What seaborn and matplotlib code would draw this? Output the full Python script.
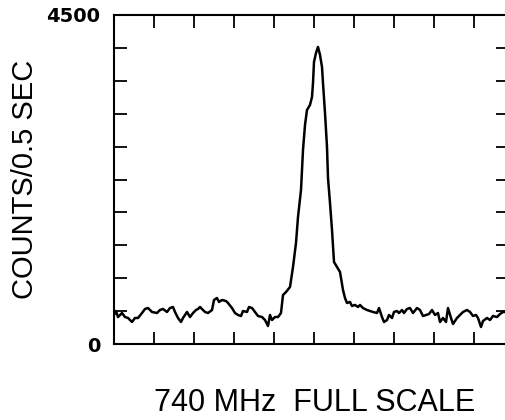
import matplotlib
matplotlib.use("Agg")
import matplotlib.pyplot as plt
import numpy as np
import pandas as pd
import seaborn as sns

# spectrum: x in scale divisions (740 MHz full scale = 10 div)
channel = [
    0.00, 0.05, 0.10, 0.20, 0.275, 0.35, 0.45, 0.525, 0.60, 0.70, 0.775, 0.85, 0.95,
    1.075, 1.15, 1.225, 1.325, 1.40, 1.475, 1.525, 1.60, 1.675, 1.725, 1.825, 1.90,
    1.975, 2.05, 2.10, 2.15, 2.20, 2.275, 2.35, 2.45, 2.50, 2.575, 2.625, 2.70, 2.80,
    2.85, 2.95, 3.025, 3.10, 3.175, 3.225, 3.325, 3.375, 3.45, 3.525, 3.60, 3.70,
    3.775, 3.85, 3.90, 3.95, 4.025, 4.10, 4.175, 4.225, 4.30, 4.40, 4.475, 4.55,
    4.60, 4.675, 4.725, 4.775, 4.825, 4.90, 4.95, 4.975, 5.00, 5.05, 5.10, 5.15,
    5.20, 5.225, 5.275, 5.325, 5.35, 5.40, 5.45, 5.50, 5.575, 5.65, 5.725, 5.775,
    5.825, 5.90, 5.95, 6.025, 6.10, 6.15, 6.225, 6.325, 6.40, 6.475, 6.575, 6.625,
    6.70, 6.75, 6.825, 6.875, 6.95, 7.00, 7.075, 7.125, 7.20, 7.25, 7.325, 7.40,
    7.475, 7.575, 7.65, 7.725, 7.80, 7.875, 7.95, 8.025, 8.10, 8.15, 8.225, 8.30,
    8.35, 8.425, 8.475, 8.575, 8.65, 8.725, 8.825, 8.90, 8.975, 9.05, 9.10, 9.175,
    9.225, 9.325, 9.40, 9.475, 9.575, 9.65, 9.725, 9.80,
]
counts = [
    397, 451, 369, 424, 369, 356, 301, 356, 356, 424, 479, 492, 438,
    424, 465, 479, 438, 492, 506, 438, 356, 301, 356, 438, 369,
    424, 465, 479, 506, 479, 438, 424, 465, 602, 629, 575, 602, 588,
    561, 492, 424, 397, 383, 451, 438, 506, 492, 438, 383, 369,
    328, 246, 397, 328, 369, 369, 424, 670, 711, 780, 1053, 1382,
    1737, 2107, 2654, 2996, 3201, 3270, 3379, 3570, 3858, 3981, 4063, 3954,
    3789, 3570, 3160, 2695, 2271, 1929, 1560, 1122, 1053, 985, 739, 629,
    561, 575, 520, 534, 506, 534, 492, 465, 451, 438, 424, 492,
    369, 301, 328, 397, 356, 438, 451, 424, 465, 424, 479, 492,
    424, 492, 465, 383, 397, 410, 465, 397, 424, 301, 356, 301,
    492, 356, 274, 356, 397, 438, 465, 438, 383, 397, 356, 233,
    315, 356, 328, 383, 369, 410, 438, 438,
]

y_ticks = np.arange(0, 4501, 450)
y_tick_labels = ["0"] + [""] * 9 + ["4500"]
x_ticks = list(range(1, 10))

sns.set_theme(style="ticks")
plt.rcParams["font.family"] = ["Liberation Sans", "DejaVu Sans"]
plt.rcParams["text.color"] = "black"
plt.rcParams["axes.labelcolor"] = "black"
plt.rcParams["xtick.color"] = "black"
plt.rcParams["ytick.color"] = "black"

df = pd.DataFrame({"channel": channel, "counts": counts})

fig = plt.figure(figsize=(5.06, 4.20), dpi=100)
W, H = 506, 420
ax = fig.add_axes([114 / W, 1 - 344 / H, (508 - 114) / W, (344 - 15) / H])
sns.lineplot(data=df, x="channel", y="counts", ax=ax, color="black",
             linewidth=1.8, sort=False)

ax.set_xlim(0, (508 - 114) / 40)
ax.set_ylim(0, 4500)
ax.set_xticks(x_ticks)
ax.set_xticklabels([])
ax.set_yticks(y_ticks)
ax.set_yticklabels(y_tick_labels, fontsize=14, family="DejaVu Sans",
                   fontweight="semibold")
ax.tick_params(axis="both", direction="in", length=9, width=1.3, color="black",
               labelcolor="black", top=True, right=True, pad=10)
for s in ax.spines.values():
    s.set_linewidth(1.5)
    s.set_color("black")

ax.set_xlabel("740 MHz  FULL SCALE", fontsize=22, color="black")
ax.xaxis.set_label_coords(0.51, -0.135)
ax.set_ylabel("COUNTS/0.5 SEC", fontsize=21, color="black")
ax.yaxis.set_label_coords(-0.19, 0.5)

fig.savefig("out.png", dpi=100, facecolor="white")
